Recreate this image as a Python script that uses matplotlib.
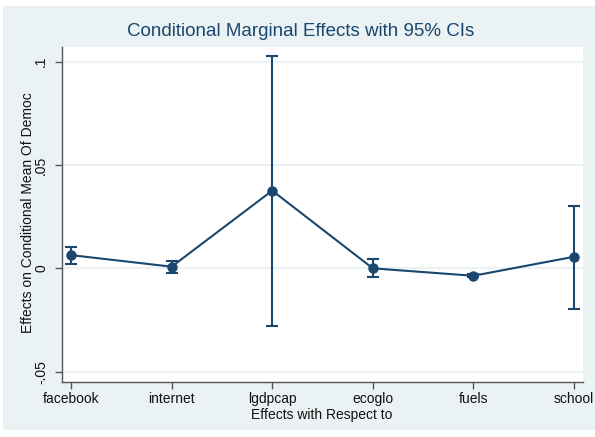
import matplotlib
matplotlib.use("Agg")
import matplotlib.pyplot as plt
from matplotlib.patches import Rectangle

categories = ["facebook", "internet", "lgdpcap", "ecoglo", "fuels", "school"]
effects = [0.0064, 0.0008, 0.0376, 0.0000, -0.0036, 0.0056]
ci_low = [0.0021, -0.0021, -0.0279, -0.0041, -0.0044, -0.0197]
ci_high = [0.0105, 0.0037, 0.1027, 0.0045, -0.0028, 0.0301]
yticks = [-0.05, 0.0, 0.05, 0.1]
ytick_labels = ["-.05", "0", ".05", ".1"]

W, H = 595, 437
plt.rcParams['font.family'] = ['Liberation Sans', 'DejaVu Sans']
fig = plt.figure(figsize=(W / 100, H / 100), dpi=100)
fig.patch.set_facecolor("white")
bg = "#EAF2F3"
fig.patches.append(Rectangle((3 / W, 1 - 430 / H), 1, (430 - 6) / H,
                             transform=fig.transFigure, facecolor=bg,
                             edgecolor="none", zorder=-10))

ax = fig.add_axes([62 / W, 1 - 382 / H, (583 - 62) / W, (382 - 47) / H])
ax.set_facecolor("white")
col = "#1a476f"
x = list(range(1, len(categories) + 1))
yerr = [[e - l for e, l in zip(effects, ci_low)], [h - e for e, h in zip(effects, ci_high)]]
ax.errorbar(x, effects, yerr=yerr, color=col, lw=1.5, marker="o", ms=6.5,
            capsize=4, capthick=1.5, elinewidth=1.5, zorder=3)

ax.set_xlim(0.91, 6.09)
ax.set_ylim(-0.055, 0.1071)
ax.set_yticks(yticks)
ax.set_yticklabels(ytick_labels, rotation=90, va="center", fontsize=10)
ax.set_xticks(x)
ax.set_xticklabels(categories, fontsize=10)
ax.grid(axis="y", color=bg, lw=1.5)
ax.set_axisbelow(True)
for s in ["top", "right"]:
    ax.spines[s].set_visible(False)
for s in ["left", "bottom"]:
    ax.spines[s].set_color("#555555")
    ax.spines[s].set_linewidth(1.0)
ax.tick_params(axis="both", direction="out", length=5, color="#555555",
               labelcolor="#111111", width=1.0)
ax.tick_params(axis="x", pad=2.5)
ax.tick_params(axis="y", pad=5)

fig.text(301 / W, 1 - 32 / H, "Conditional Marginal Effects with 95% CIs",
         ha="center", va="center", fontsize=13.5, color=col)
fig.text(322 / W, 1 - 415 / H, "Effects with Respect to", ha="center",
         va="center", fontsize=10, color="#111111")
fig.text(28 / W, 1 - 213 / H, "Effects on Conditional Mean Of Democ",
         ha="center", va="center", rotation=90, fontsize=10, color="#111111")

fig.savefig("out.png", dpi=100, facecolor=fig.get_facecolor())
